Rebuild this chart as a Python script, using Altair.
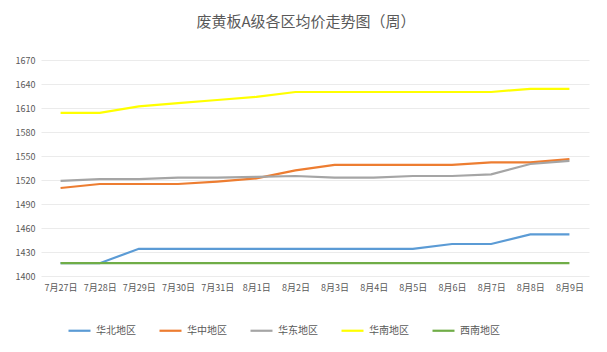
import altair as alt
import pandas as pd

dates = ["7月27日", "7月28日", "7月29日", "7月30日", "7月31日", "8月1日", "8月2日",
         "8月3日", "8月4日", "8月5日", "8月6日", "8月7日", "8月8日", "8月9日"]
regions = ["华北地区", "华中地区", "华东地区", "华南地区", "西南地区"]
colors = ["#5B9BD5", "#ED7D31", "#A5A5A5", "#FFFF00", "#70AD47"]

huabei = [1416, 1416, 1434, 1434, 1434, 1434, 1434, 1434, 1434, 1434, 1440, 1440, 1452, 1452]
huazhong = [1510, 1515, 1515, 1515, 1518, 1522, 1532, 1539, 1539, 1539, 1539, 1542, 1542, 1546]
huadong = [1519, 1521, 1521, 1523, 1523, 1524, 1525, 1523, 1523, 1525, 1525, 1527, 1540, 1544]
huanan = [1604, 1604, 1612, 1616, 1620, 1624, 1630, 1630, 1630, 1630, 1630, 1630, 1634, 1634]
xinan = [1416] * 14

series = [huabei, huazhong, huadong, huanan, xinan]
rows = []
for r, vals in zip(regions, series):
    for d, v in zip(dates, vals):
        rows.append({"date": d, "region": r, "price": v})
df = pd.DataFrame(rows)

font = "Noto Sans CJK SC"

chart = alt.Chart(df).mark_line(strokeWidth=2.2).encode(
    x=alt.X("date:N", sort=dates, title=None,
            scale=alt.Scale(paddingInner=0, paddingOuter=0.5),
            axis=alt.Axis(labelAngle=0, labelFontSize=9, labelColor="#595959",
                          labelFont=font, ticks=False, domain=False, grid=False,
                          labelPadding=7)),
    y=alt.Y("price:Q", title=None,
            scale=alt.Scale(domain=[1400, 1670], nice=False, zero=False),
            axis=alt.Axis(values=list(range(1400, 1671, 30)), format="d", labelFontSize=9,
                          labelColor="#595959", labelFont=font, ticks=False,
                          domain=False, gridColor="#EBEBEB", labelPadding=6)),
    color=alt.Color("region:N", sort=regions,
                    scale=alt.Scale(domain=regions, range=colors),
                    legend=alt.Legend(title=None, orient="none", direction="horizontal",
                                      legendX=26, legendY=258, symbolType="stroke",
                                      symbolSize=484, symbolStrokeWidth=2.2,
                                      labelFontSize=10, labelColor="#595959",
                                      labelFont=font, columnPadding=19, labelOffset=4)),
).properties(
    width=548, height=216,
    autosize="none",
    padding={"left": 41, "top": 60, "right": 18, "bottom": 76},
    title=alt.TitleParams("废黄板A级各区均价走势图（周）", fontSize=15, font=font,
                          color="#595959", fontWeight="normal", anchor="middle",
                          dx=-9, offset=26),
).configure_view(stroke=None)

chart.save("out.html", embed_options={"renderer": "svg", "actions": False})
